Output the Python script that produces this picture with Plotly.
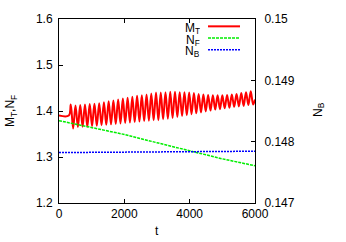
import plotly.graph_objects as go

# ---- data ----
mt_t = [0, 300, 360, 432, 505, 577, 650, 722, 795, 867, 940, 1012, 1085, 1157,
        1230, 1302, 1375, 1447, 1520, 1592, 1665, 1737, 1810, 1882, 1955, 2027,
        2100, 2172, 2245, 2317, 2390, 2462, 2535, 2607, 2680, 2752, 2825, 2897,
        2970, 3042, 3115, 3187, 3260, 3332, 3405, 3477, 3550, 3622, 3695, 3767,
        3840, 3912, 3985, 4057, 4130, 4202, 4275, 4347, 4420, 4492, 4565, 4637,
        4710, 4782, 4855, 4927, 5000, 5072, 5145, 5217, 5290, 5362, 5435, 5507,
        5580, 5652, 5725, 5797, 5870, 5942, 6000]
mt_v = [1.390, 1.390, 1.414, 1.362, 1.412, 1.365, 1.413, 1.366, 1.414, 1.366,
        1.415, 1.367, 1.416, 1.368, 1.417, 1.369, 1.419, 1.370, 1.421, 1.371,
        1.423, 1.372, 1.425, 1.373, 1.427, 1.374, 1.429, 1.375, 1.431, 1.376,
        1.433, 1.377, 1.434, 1.378, 1.436, 1.379, 1.438, 1.380, 1.440, 1.380,
        1.440, 1.382, 1.441, 1.383, 1.442, 1.385, 1.442, 1.387, 1.441, 1.389,
        1.441, 1.391, 1.440, 1.393, 1.439, 1.395, 1.437, 1.397, 1.436, 1.399,
        1.435, 1.401, 1.434, 1.403, 1.434, 1.404, 1.434, 1.406, 1.435, 1.407,
        1.436, 1.409, 1.437, 1.410, 1.439, 1.411, 1.441, 1.413, 1.443, 1.414,
        1.425]

nf_t = [0, 1000, 2000, 3000, 4000, 5000, 6000]
nf_v = [1.379, 1.364, 1.349, 1.331, 1.313, 1.296, 1.281]

nb_t = [0, 2000, 4000, 6000]
nb_v = [0.147822, 0.147829, 0.147837, 0.147844]

x_ticks = [0, 2000, 4000, 6000]
y_ticks = [1.2, 1.3, 1.4, 1.5, 1.6]
y2_ticks = [0.147, 0.148, 0.149, 0.150]
y2_text = ["0.147", "0.148", "0.149", "0.15"]

legend_names = ["M<sub>T</sub>", "N<sub>F</sub>", "N<sub>B</sub>"]
colors = ["#ff0000", "#00ee00", "#0000ff"]
dashes = ["solid", "3px,1px", "2px,1px"]
widths = [2, 1.5, 1.5]

FONT = "Liberation Sans, Arial, sans-serif"

fig = go.Figure()
fig.add_trace(go.Scatter(x=mt_t, y=mt_v, mode="lines", line_shape="spline",
                         line=dict(color=colors[0], width=widths[0], dash=dashes[0]),
                         showlegend=False))
fig.add_trace(go.Scatter(x=nf_t, y=nf_v, mode="lines",
                         line=dict(color=colors[1], width=widths[1], dash=dashes[1]),
                         showlegend=False))
fig.add_trace(go.Scatter(x=nb_t, y=nb_v, mode="lines", yaxis="y2",
                         line=dict(color=colors[2], width=widths[2], dash=dashes[2]),
                         showlegend=False))

# manual gnuplot-style legend (text right, sample line to the right)
shapes = []
annotations = []
leg_y = [22.5, 34.5, 46.5]
for i, name in enumerate(legend_names):
    yp = 1 - (leg_y[i] - 15) / 188
    annotations.append(dict(xref="paper", yref="paper", x=(201 - 59) / 196, y=yp,
                            text=name, showarrow=False, xanchor="right", yanchor="middle",
                            yshift=-2, borderpad=0, height=11,
                            font=dict(family=FONT, size=12, color="black")))
    shapes.append(dict(type="line", xref="paper", yref="paper",
                       x0=(208 - 59) / 196, x1=(240 - 59) / 196, y0=yp, y1=yp,
                       line=dict(color=colors[i], width=widths[i], dash=dashes[i])))

annotations.append(dict(xref="paper", yref="paper", x=(157 - 59) / 196, y=-(232 - 203) / 188,
                        text="t", showarrow=False, xanchor="center", yanchor="middle",
                        font=dict(family=FONT, size=12, color="black")))
annotations.append(dict(xref="paper", yref="paper", x=-(59 - 11) / 196, y=0.5,
                        text="M<sub>T</sub>,N<sub>F</sub>", textangle=-90, showarrow=False,
                        xanchor="center", yanchor="middle",
                        font=dict(family=FONT, size=12, color="black")))
annotations.append(dict(xref="paper", yref="paper", x=1 + (319 - 255) / 196, y=1 - (108 - 15) / 188,
                        text="N<sub>B</sub>", textangle=-90, showarrow=False,
                        xanchor="center", yanchor="middle",
                        font=dict(family=FONT, size=12, color="black")))

axis_common = dict(showgrid=False, zeroline=False, ticks="inside", ticklen=4,
                   tickcolor="black", linecolor="black", linewidth=1, showline=True,
                   tickfont=dict(family=FONT, size=12, color="black"))

fig.update_layout(
    width=346, height=242,
    margin=dict(l=59, r=91, t=15, b=39),
    paper_bgcolor="white", plot_bgcolor="white",
    xaxis=dict(range=[0, 6000], tickvals=x_ticks, mirror="ticks", **axis_common),
    yaxis=dict(range=[1.2, 1.6], tickvals=y_ticks, tickformat=".1f", mirror=False,
               ticklabelstandoff=3, **axis_common),
    yaxis2=dict(range=[0.147, 0.150], tickvals=y2_ticks, ticktext=y2_text,
                overlaying="y", side="right", ticklabelstandoff=6, **axis_common),
    shapes=shapes, annotations=annotations,
)

fig.write_html("out.html", config={"displayModeBar": False},
               post_script="document.body.style.margin='0';document.body.style.overflow='hidden';")
